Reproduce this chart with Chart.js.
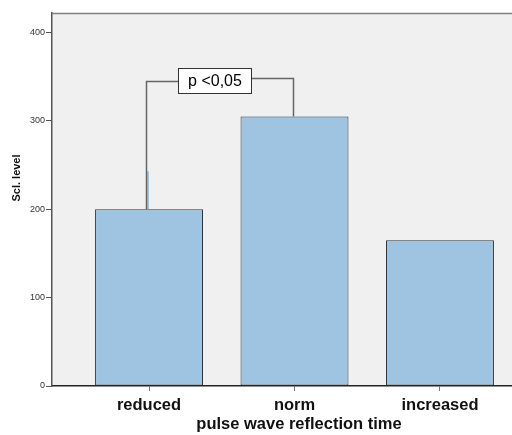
<!DOCTYPE html>
<html><head><meta charset="utf-8">
<script src="https://cdn.jsdelivr.net/npm/chart.js@4/dist/chart.umd.min.js"></script>
<style>html,body{margin:0;padding:0;background:#fff}#wrap{width:512px;height:435px}</style>
</head><body><div id="wrap"><canvas id="c" width="512" height="435"></canvas></div>
<script>
const categories = ['reduced', 'norm', 'increased'];
const sclLevel = [200, 305, 165];
const yTicks = [0, 100, 200, 300, 400];
const xTitle = 'pulse wave reflection time';
const yTitle = 'Scl. level';
const bracketLabel = 'p <0,05';
const bracketFrom = 0, bracketTo = 1;
const bracketTops = [345, 348];
const reducedErrorUpper = 243;

const FONT = '"Liberation Sans", Arial, sans-serif';

const decor = {
  id: 'decor',
  beforeDraw(chart) {
    const {ctx, chartArea: a} = chart;
    ctx.save();
    ctx.fillStyle = '#f0f0f0';
    ctx.fillRect(a.left, a.top, a.right - a.left, a.bottom - a.top);
    ctx.restore();
  },
  afterDatasetsDraw(chart) {
    const {ctx, chartArea: a, scales: {x, y}} = chart;
    ctx.save();
    ctx.strokeStyle = '#808080';
    ctx.lineWidth = 1.5;
    ctx.beginPath();
    ctx.moveTo(a.left, a.top + 0.5);
    ctx.lineTo(a.right, a.top + 0.5);
    ctx.stroke();

    const x0 = Math.round(x.getPixelForValue(bracketFrom) - 3) + 0.5;
    const x1 = Math.round(x.getPixelForValue(bracketTo) - 1.5) + 0.5;
    const t0 = y.getPixelForValue(sclLevel[bracketFrom]);
    const t1 = y.getPixelForValue(sclLevel[bracketTo]);
    const yl = Math.round(y.getPixelForValue(bracketTops[0])) + 0.5;
    const yr = Math.round(y.getPixelForValue(bracketTops[1])) + 0.5;

    ctx.strokeStyle = '#8db6d8';
    ctx.lineWidth = 1.5;
    ctx.beginPath();
    ctx.moveTo(x0 + 1.5, t0);
    ctx.lineTo(x0 + 1.5, y.getPixelForValue(reducedErrorUpper));
    ctx.stroke();

    const bw = 73, bh = 25;
    const cx = (x0 + x1) / 2 - 5.5;
    const cy = (yl + yr) / 2;
    const bl = Math.round(cx - bw / 2) + 0.5, bt = Math.round(cy - bh / 2) + 0.5;

    ctx.strokeStyle = '#666';
    ctx.lineWidth = 1.5;
    ctx.beginPath();
    ctx.moveTo(x0, t0);
    ctx.lineTo(x0, yl);
    ctx.lineTo(bl, yl);
    ctx.moveTo(bl + bw, yr);
    ctx.lineTo(x1, yr);
    ctx.lineTo(x1, t1);
    ctx.stroke();

    ctx.fillStyle = '#fff';
    ctx.fillRect(bl, bt, bw, bh);
    ctx.strokeStyle = '#333';
    ctx.lineWidth = 1;
    ctx.strokeRect(bl, bt, bw, bh);
    ctx.fillStyle = '#000';
    ctx.font = '16px ' + FONT;
    ctx.textAlign = 'center';
    ctx.textBaseline = 'middle';
    ctx.fillText(bracketLabel, bl + bw / 2, bt + bh / 2 + 1);

    ctx.font = 'bold 16.5px ' + FONT;
    ctx.fillStyle = '#111';
    ctx.fillText(xTitle, 299, 424);
    ctx.save();
    ctx.translate(17, 178);
    ctx.rotate(-Math.PI / 2);
    ctx.font = 'bold 11px ' + FONT;
    ctx.fillText(yTitle, 0, 0);
    ctx.restore();
    ctx.restore();
  }
};

new Chart(document.getElementById('c'), {
  type: 'bar',
  data: {
    datasets: [{
      data: categories.map((c, i) => ({x: i, y: sclLevel[i]})),
      backgroundColor: '#9ec4e1',
      borderColor: '#333',
      borderWidth: 1,
      borderSkipped: false,
      barPercentage: 0.742,
      categoryPercentage: 1
    }]
  },
  options: {
    responsive: false,
    animation: false,
    devicePixelRatio: 1,
    layout: {padding: {top: 13, right: 0, left: 0, bottom: 0}},
    plugins: {legend: {display: false}, tooltip: {enabled: false}, title: {display: false}},
    scales: {
      x: {
        type: 'linear',
        offset: false,
        min: -0.667,
        max: 2.495,
        afterBuildTicks: s => { s.ticks = categories.map((c, i) => ({value: i})); },
        afterFit: s => { s.height = 49; },
        ticks: {
          callback: v => categories[v],
          font: {family: FONT, size: 16.5, weight: 'bold'},
          color: '#111',
          padding: 5,
          maxRotation: 0,
          autoSkip: false
        },
        grid: {offset: false, drawOnChartArea: false, drawTicks: true, tickLength: 5, color: '#777'},
        border: {display: true, color: '#222', width: 1.5}
      },
      y: {
        min: 0,
        max: 422,
        afterBuildTicks: s => { s.ticks = yTicks.map(v => ({value: v})); },
        afterFit: s => { s.width = 52; },
        ticks: {font: {family: FONT, size: 9}, color: '#333', padding: 1},
        grid: {drawOnChartArea: false, drawTicks: true, tickLength: 6, color: '#555'},
        border: {display: true, color: '#555', width: 1.5}
      }
    }
  },
  plugins: [decor]
});
</script>
</body></html>
